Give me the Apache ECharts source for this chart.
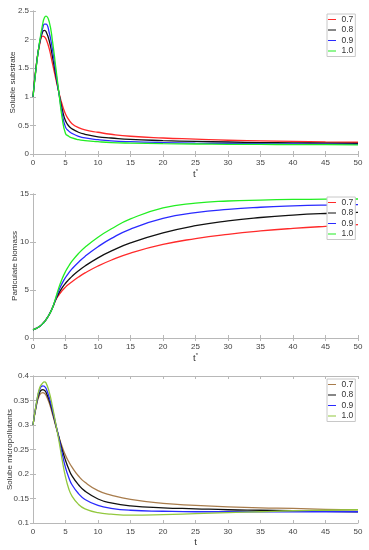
<!DOCTYPE html>
<html>
<head>
<meta charset="utf-8">
<script src="https://cdn.jsdelivr.net/npm/echarts@6/dist/echarts.min.js"></script>
<style>
html,body{margin:0;padding:0;background:#fff;}
#c{width:369px;height:550px;}
</style>
</head>
<body>
<div id="c"></div>
<script>
// ---- data ----
const tValues = [0,0.5,1,1.5,1.75,2,2.5,3,3.5,4,4.5,5,5.5,6,7,8,10,12,15,20,25,30,35,40,45,50];
const legendNames = ['0.7','0.8','0.9','1.0'];
const xTicks = [0,5,10,15,20,25,30,35,40,45,50];

// Panel 1: Soluble substrate
const sub07 = [1.0,1.55,1.9,2.06,2.05,2.01,1.84,1.58,1.32,1.07,0.86,0.70,0.60,0.53,0.46,0.42,0.38,0.345,0.31,0.28,0.26,0.24,0.23,0.22,0.21,0.205];
const sub08 = [1.0,1.54,1.93,2.14,2.16,2.14,1.98,1.70,1.38,1.06,0.78,0.58,0.49,0.44,0.38,0.345,0.30,0.28,0.255,0.235,0.22,0.21,0.20,0.195,0.19,0.185];
const sub09 = [1.0,1.53,1.94,2.20,2.27,2.27,2.12,1.82,1.44,1.05,0.70,0.47,0.40,0.36,0.31,0.28,0.25,0.23,0.215,0.20,0.19,0.185,0.18,0.175,0.172,0.17];
const sub10 = [1.0,1.52,1.95,2.28,2.38,2.41,2.31,1.97,1.52,1.06,0.62,0.36,0.31,0.28,0.25,0.235,0.215,0.20,0.19,0.18,0.175,0.17,0.168,0.165,0.163,0.16];

// Panel 2: Particulate biomass
const bio07 = [0.85,1.0,1.2,1.5,1.68,1.9,2.45,3.15,3.95,4.5,4.95,5.3,5.6,5.87,6.35,6.78,7.5,8.1,8.85,9.75,10.35,10.8,11.15,11.42,11.63,11.8];
const bio08 = [0.85,1.0,1.2,1.5,1.68,1.9,2.45,3.15,4.0,4.7,5.25,5.7,6.08,6.42,7.0,7.5,8.35,9.05,9.9,10.95,11.7,12.2,12.55,12.8,12.97,13.08];
const bio09 = [0.85,1.0,1.2,1.5,1.68,1.9,2.45,3.15,4.1,5.0,5.72,6.3,6.78,7.2,7.9,8.5,9.5,10.35,11.35,12.45,13.05,13.4,13.62,13.76,13.85,13.9];
const bio10 = [0.85,1.0,1.2,1.5,1.68,1.9,2.45,3.15,4.2,5.3,6.2,6.92,7.5,8.0,8.8,9.45,10.5,11.35,12.4,13.55,14.05,14.27,14.37,14.43,14.46,14.48];

// Panel 3: Solube micropollutants
const mic07 = [0.3,0.338,0.361,0.366,0.365,0.361,0.345,0.322,0.298,0.275,0.255,0.238,0.225,0.214,0.196,0.183,0.166,0.157,0.148,0.14,0.136,0.133,0.131,0.13,0.128,0.127];
const mic08 = [0.3,0.34,0.366,0.372,0.371,0.367,0.35,0.327,0.3,0.274,0.249,0.228,0.21,0.196,0.178,0.165,0.149,0.141,0.135,0.131,0.129,0.127,0.126,0.125,0.124,0.123];
const mic09 = [0.3,0.342,0.372,0.38,0.379,0.375,0.356,0.331,0.302,0.272,0.241,0.213,0.193,0.178,0.16,0.148,0.136,0.13,0.126,0.124,0.123,0.123,0.123,0.123,0.123,0.123];
const mic10 = [0.3,0.343,0.375,0.386,0.388,0.386,0.367,0.337,0.303,0.267,0.228,0.194,0.17,0.155,0.138,0.129,0.121,0.118,0.116,0.117,0.119,0.121,0.123,0.125,0.126,0.127];

// ---- chart ----
const panels = [
  {values:[sub07,sub08,sub09,sub10], colors:['#ff2a2a','#111111','#2a2aff','#22ee22'],
   top:11, height:143, ymin:0, ymax:2.5, yint:0.5, yname:'Soluble substrate', ygap:16, xname:'t{s|*}', xgap:13,
   legend:{left:327, top:14}},
  {values:[bio07,bio08,bio09,bio10], colors:['#ff2a2a','#111111','#2a2aff','#22ee22'],
   top:194, height:144, ymin:0, ymax:15, yint:5, yname:'Particulate biomass', ygap:14, xname:'t{s|*}', xgap:6,
   legend:{left:327, top:197}},
  {values:[mic07,mic08,mic09,mic10], colors:['#a87c4c','#111111','#2a2aff','#92c83e'],
   top:376, height:147, ymin:0.1, ymax:0.4, yint:0.05, yname:'Solube micropollutants', ygap:19, xname:'t', xgap:12,
   legend:{left:327, top:379}}
];

const lineIcon = 'path://M0,0 L0.01,0 L0.01,0.01 Z M0,4.4 L10,4.4 L10,5.6 L0,5.6 Z M9.99,9.99 L10,9.99 L10,10 Z';
const axisLineColor = '#b8b8b8';
const labelColor = '#444';
const grids=[], xAxes=[], yAxes=[], series=[], legends=[];
panels.forEach((p, i) => {
  grids.push({left:33, right:11, top:p.top, height:p.height, containLabel:false, outerBoundsMode:'none'});
  const tick = {show:true, inside:true, length:3, lineStyle:{color:axisLineColor}};
  xAxes.push({gridIndex:i, type:'value', min:0, max:50, interval:5, position:'bottom',
    axisLine:{show:true, lineStyle:{color:axisLineColor}}, axisTick:tick,
    axisLabel:{color:labelColor, fontSize:8, margin:5, fontFamily:'Liberation Sans'},
    splitLine:{show:false},
    name:p.xname, nameLocation:'middle', nameGap:p.xgap,
    nameTextStyle:{color:'#333', fontSize:9.5, fontFamily:'Liberation Sans', rich:{s:{fontSize:6, verticalAlign:'top', padding:[0,0,6,0]}}}});
  xAxes.push({gridIndex:i, type:'value', min:0, max:50, interval:5, position:'top',
    axisLine:{show:true, lineStyle:{color:axisLineColor}}, axisTick:tick,
    axisLabel:{show:false}, splitLine:{show:false}});
  yAxes.push({gridIndex:i, type:'value', min:p.ymin, max:p.ymax, interval:p.yint, position:'left',
    axisLine:{show:true, lineStyle:{color:axisLineColor}}, axisTick:tick,
    axisLabel:{color:labelColor, fontSize:8, margin:4, fontFamily:'Liberation Sans'},
    splitLine:{show:false},
    name:p.yname, nameLocation:'middle', nameGap:p.ygap, nameRotate:90, nameMoveOverlap:false,
    nameTextStyle:{color:'#333', fontSize:8, fontFamily:'Liberation Sans'}});
  yAxes.push({gridIndex:i, type:'value', min:p.ymin, max:p.ymax, interval:p.yint, position:'right',
    axisLine:{show:true, lineStyle:{color:axisLineColor}}, axisTick:tick,
    axisLabel:{show:false}, splitLine:{show:false}});
  const names = [];
  p.values.forEach((vals, k) => {
    const nm = 'p' + i + '|' + legendNames[k];
    names.push({name:nm, icon:lineIcon, itemStyle:{color:p.colors[k]}});
    series.push({
      name:nm, type:'line', xAxisIndex:2*i, yAxisIndex:2*i,
      data: tValues.map((t, j) => [t, vals[j]]),
      showSymbol:false, symbol:'none', smooth:0.5,
      lineStyle:{color:p.colors[k], width:1.3}, itemStyle:{color:p.colors[k]},
      silent:true, animation:false, z:2
    });
  });
  legends.push({data:names, orient:'vertical', left:p.legend.left, top:p.legend.top,
    itemWidth:9, itemHeight:8, itemGap:1.5, padding:[1,2,1,1],
    backgroundColor:'#fff', borderColor:'#c8c8c8', borderWidth:1, z:10,
    selectedMode:false,
    textStyle:{fontSize:8.5, color:'#333', fontFamily:'Liberation Sans', lineHeight:8},
    formatter: n => n.split('|')[1]});
});

const chart = echarts.init(document.getElementById('c'), null, {renderer:'canvas'});
chart.setOption({
  animation:false,
  backgroundColor:'#fff',
  grid:grids, xAxis:xAxes, yAxis:yAxes, series:series, legend:legends
});
</script>
</body>
</html>
